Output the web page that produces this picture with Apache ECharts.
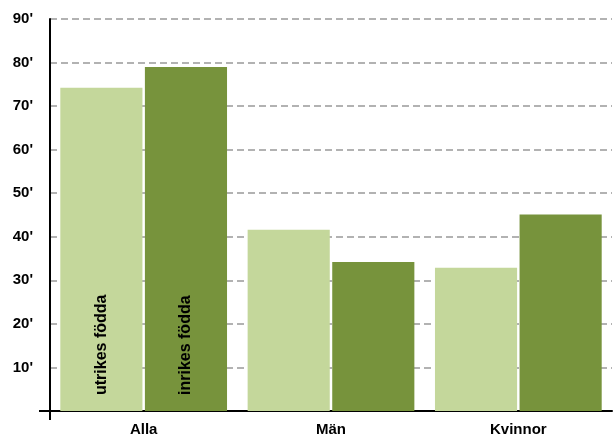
<!DOCTYPE html>
<html><head><meta charset="utf-8">
<script src="https://cdn.jsdelivr.net/npm/echarts@6/dist/echarts.min.js"></script>
<style>html,body{margin:0;padding:0;background:#fff}#c{width:613px;height:437px}</style>
</head><body><div id="c"></div>
<script>
const categories = ['Alla', 'Män', 'Kvinnor'];
const seriesNames = ['utrikes födda', 'inrikes födda'];
const utrikes = [74.2, 41.6, 32.9];
const inrikes = [79.0, 34.2, 45.1];
const yTicks = [0, 10, 20, 30, 40, 50, 60, 70, 80, 90];

const font = 'Liberation Sans';
const chart = echarts.init(document.getElementById('c'));
function barLabel(name){
  return {
    show: true, position: 'insideBottom', rotate: 90, distance: 18,
    formatter: p => p.dataIndex === 0 ? name : '',
    color: '#000', fontWeight: 'bold', fontSize: 16, fontFamily: font,
    align: 'left', verticalAlign: 'middle', offset: [-2, 0]
  };
}
chart.setOption({
  animation: false,
  grid: { left: 50, right: 1, top: 19, bottom: 25.5, containLabel: false },
  xAxis: {
    type: 'category', data: categories,
    axisLine: { lineStyle: { color: '#000', width: 2 } },
    axisTick: { show: false },
    axisLabel: { color: '#000', fontWeight: 'bold', fontSize: 15, fontFamily: font, margin: 11 }
  },
  yAxis: {
    type: 'value', min: yTicks[0], max: yTicks[yTicks.length-1], interval: 10,
    axisLine: { show: true, lineStyle: { color: '#000', width: 2 } },
    axisTick: { show: false },
    axisLabel: { color: '#000', fontWeight: 'bold', fontSize: 15, fontFamily: font, margin: 17,
      formatter: v => v === 0 ? '' : v + "'" },
    splitLine: { show: true, lineStyle: { color: '#999', width: 1.6, type: [7, 4] } }
  },
  series: [
    { name: seriesNames[0], type: 'bar', data: utrikes, barGap: '3%', barCategoryGap: '11%',
      itemStyle: { color: '#c4d79b' }, label: barLabel(seriesNames[0]) },
    { name: seriesNames[1], type: 'bar', data: inrikes,
      itemStyle: { color: '#77933c' }, label: barLabel(seriesNames[1]) }
  ]
});
const o = chart.convertToPixel({ gridIndex: 0 }, [0, 0]);
const r = chart.getModel().getComponent('grid', 0).coordinateSystem.getRect();
chart.setOption({ graphic: [
  { type: 'line', shape: { x1: r.x - 11, y1: o[1], x2: r.x, y2: o[1] }, style: { stroke: '#000', lineWidth: 2 } },
  { type: 'line', shape: { x1: r.x, y1: o[1], x2: r.x, y2: o[1] + 9 }, style: { stroke: '#000', lineWidth: 2 } }
] });
</script></body></html>
